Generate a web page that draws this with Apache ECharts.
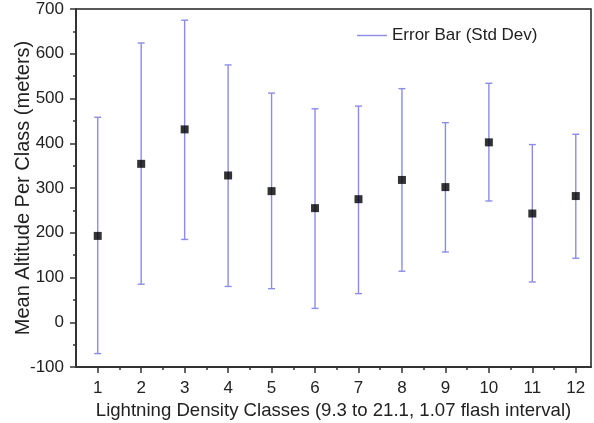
<!DOCTYPE html>
<html><head><meta charset="utf-8">
<script src="https://cdn.jsdelivr.net/npm/echarts@6/dist/echarts.min.js"></script>
<style>html,body{margin:0;padding:0;background:#fff}#c{width:594px;height:423px}</style>
</head><body><div id="c"></div>
<script>
const classes = [1,2,3,4,5,6,7,8,9,10,11,12];
const means = [193,354,431,328,293,255,275,318,302,402,243,282];
const upper = [458,624,675,575,512,477,483,522,446,534,397,420];
const lower = [-70,85,185,80,75,31,64,114,157,271,90,143];
const yTicks = [-100,0,100,200,300,400,500,600,700];
const xMinorTicks = [1.5,2.5,3.5,4.5,5.5,6.5,7.5,8.5,9.5,10.5,11.5];
const legendName = 'Error Bar (Std Dev)';

const FONT = 'Liberation Sans, Arial, sans-serif';
const errData = classes.map((c,i)=>[c, lower[i], upper[i]]);
const meanData = classes.map((c,i)=>[c, means[i]]);
const chart = echarts.init(document.getElementById('c'), null, {renderer:'canvas'});
const ERR = '#8c8ce8';
chart.setOption({
  animation:false,
  backgroundColor:'#fff',
  grid:{left:76, top:9, right:3, bottom:56, containLabel:false, outerBoundsMode:'none',
        show:true, borderColor:'#222', borderWidth:1.5, backgroundColor:'transparent'},
  legend:{
    left:352, top:22, itemWidth:30, itemHeight:1.4, itemGap:10,
    data:[{name:legendName, icon:'rect'}],
    textStyle:{fontFamily:FONT, fontSize:17, color:'#222'}
  },
  xAxis:[{
    type:'value', min:0.5, max:12.35,
    name:'Lightning Density Classes (9.3 to 21.1, 1.07 flash interval)',
    nameLocation:'middle', nameGap:34, nameMoveOverlap:false,
    nameTextStyle:{fontFamily:FONT, fontSize:18.6, color:'#222'},
    axisLine:{onZero:false, lineStyle:{color:'#333', width:2}},
    axisTick:{show:true, inside:false, length:6, customValues:classes, lineStyle:{color:'#333', width:1.5}},
    splitLine:{show:false},
    axisLabel:{fontFamily:FONT, fontSize:17, color:'#222', margin:13, customValues:classes}
  },{
    type:'value', min:0.5, max:12.35, position:'bottom',
    axisLine:{show:false, onZero:false},
    axisTick:{show:true, inside:false, length:3, customValues:xMinorTicks, lineStyle:{color:'#333', width:1.5}},
    axisLabel:{show:false},
    splitLine:{show:false}
  }],
  yAxis:{
    type:'value', min:yTicks[0], max:yTicks[yTicks.length-1], interval:100,
    name:'Mean Altitude Per Class (meters)',
    nameLocation:'middle', nameGap:43, nameMoveOverlap:false,
    nameTextStyle:{fontFamily:FONT, fontSize:20, color:'#222'},
    axisLine:{show:true, lineStyle:{color:'#333', width:2}},
    axisTick:{show:true, inside:false, length:6, lineStyle:{color:'#333', width:1.5}},
    minorTick:{show:true, splitNumber:2, length:3, lineStyle:{color:'#333', width:1.5}},
    splitLine:{show:false},
    axisLabel:{fontFamily:FONT, fontSize:17, color:'#222', margin:12}
  },
  series:[
    {
      name:legendName, type:'custom', data:errData,
      itemStyle:{color:ERR},
      encode:{x:0, y:[1,2]},
      renderItem:function(params, api){
        const x = api.value(0);
        const lo = api.coord([x, api.value(1)]);
        const hi = api.coord([x, api.value(2)]);
        const hw = 3.5;
        const st = {stroke:ERR, lineWidth:1.4};
        return {type:'group', children:[
          {type:'line', shape:{x1:lo[0], y1:lo[1], x2:hi[0], y2:hi[1]}, style:st},
          {type:'line', shape:{x1:lo[0]-hw, y1:lo[1], x2:lo[0]+hw, y2:lo[1]}, style:st},
          {type:'line', shape:{x1:hi[0]-hw, y1:hi[1], x2:hi[0]+hw, y2:hi[1]}, style:st}
        ]};
      },
      z:2
    },
    {
      name:'Mean', type:'scatter', data:meanData, symbol:'rect', symbolSize:8,
      itemStyle:{color:'#000'}, z:3
    }
  ]
});
</script></body></html>
